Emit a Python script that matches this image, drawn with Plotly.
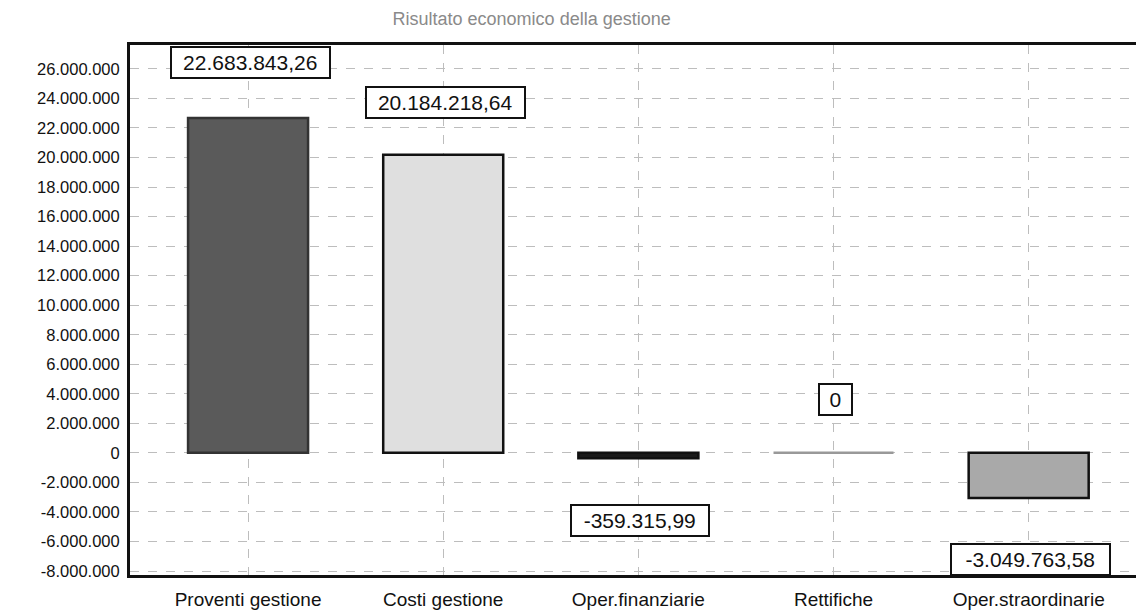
import plotly.graph_objects as go

# Voci del conto economico e relativi importi (euro)
categorie = ["Proventi gestione", "Costi gestione", "Oper.finanziarie", "Rettifiche", "Oper.straordinarie"]
importi = [22683843.26, 20184218.64, -359315.99, 0.0, -3049763.58]
etichette = ["22.683.843,26", "20.184.218,64", "-359.315,99", "0", "-3.049.763,58"]

# Tacche dell'asse verticale
tick_valori = list(range(-8000000, 26000001, 2000000))
tick_testi = [("-" if v < 0 else "") + f"{abs(v):,}".replace(",", ".") for v in tick_valori]

colori = ["#5a5a5a", "#dfdfdf", "#1a1a1a", "#b0b0b0", "#a9a9a9"]
bordi = ["#333333", "#111111", "#111111", "#999999", "#111111"]

FONT = "Liberation Sans, Arial, sans-serif"

fig = go.Figure()
fig.add_trace(go.Bar(
    x=categorie,
    y=importi,
    width=0.615,
    marker=dict(color=colori, line=dict(color=bordi, width=2.5)),
    hoverinfo="skip",
))

# Etichette con i valori, in riquadri sopra o sotto la barra
spost_y = [55, 52, -62, 53, -62]
for cat, val, txt, dy in zip(categorie, importi, etichette, spost_y):
    fig.add_annotation(
        x=cat, y=val, text=txt, showarrow=False,
        yshift=dy, xshift=2,
        width=10.5 * len(txt) + 14, align="center",
        font=dict(family=FONT, size=21, color="#111"),
        bgcolor="white", bordercolor="#111", borderwidth=2, borderpad=3,
    )

fig.update_layout(
    width=1136, height=615,
    margin=dict(l=130, r=0, t=45, b=40),
    paper_bgcolor="white", plot_bgcolor="white",
    showlegend=False,
    title=dict(
        text="Risultato economico della gestione",
        x=0.468, xanchor="center", y=0.97, yanchor="middle",
        font=dict(family=FONT, size=18, color="#8a8a8a"),
    ),
    font=dict(family=FONT, size=14, color="#111"),
)

fig.update_xaxes(
    range=[-0.605, 4.55],
    automargin=False,
    showgrid=True, gridcolor="#bdbdbd", griddash="dash", gridwidth=1,
    showline=True, linecolor="#111", linewidth=3, mirror=True,
    ticks="", ticklabelstandoff=5,
    tickfont=dict(family=FONT, size=19, color="#111"),
    zeroline=False,
)
fig.update_yaxes(
    range=[-8270000, 27620000],
    automargin=False,
    tickvals=tick_valori, ticktext=tick_testi,
    showgrid=True, gridcolor="#bdbdbd", griddash="dash", gridwidth=1,
    showline=True, linecolor="#111", linewidth=3,
    ticks="", ticklabelstandoff=4,
    tickfont=dict(family=FONT, size=16.5, color="#111"),
    zeroline=False,
)

fig.write_html("out.html")
